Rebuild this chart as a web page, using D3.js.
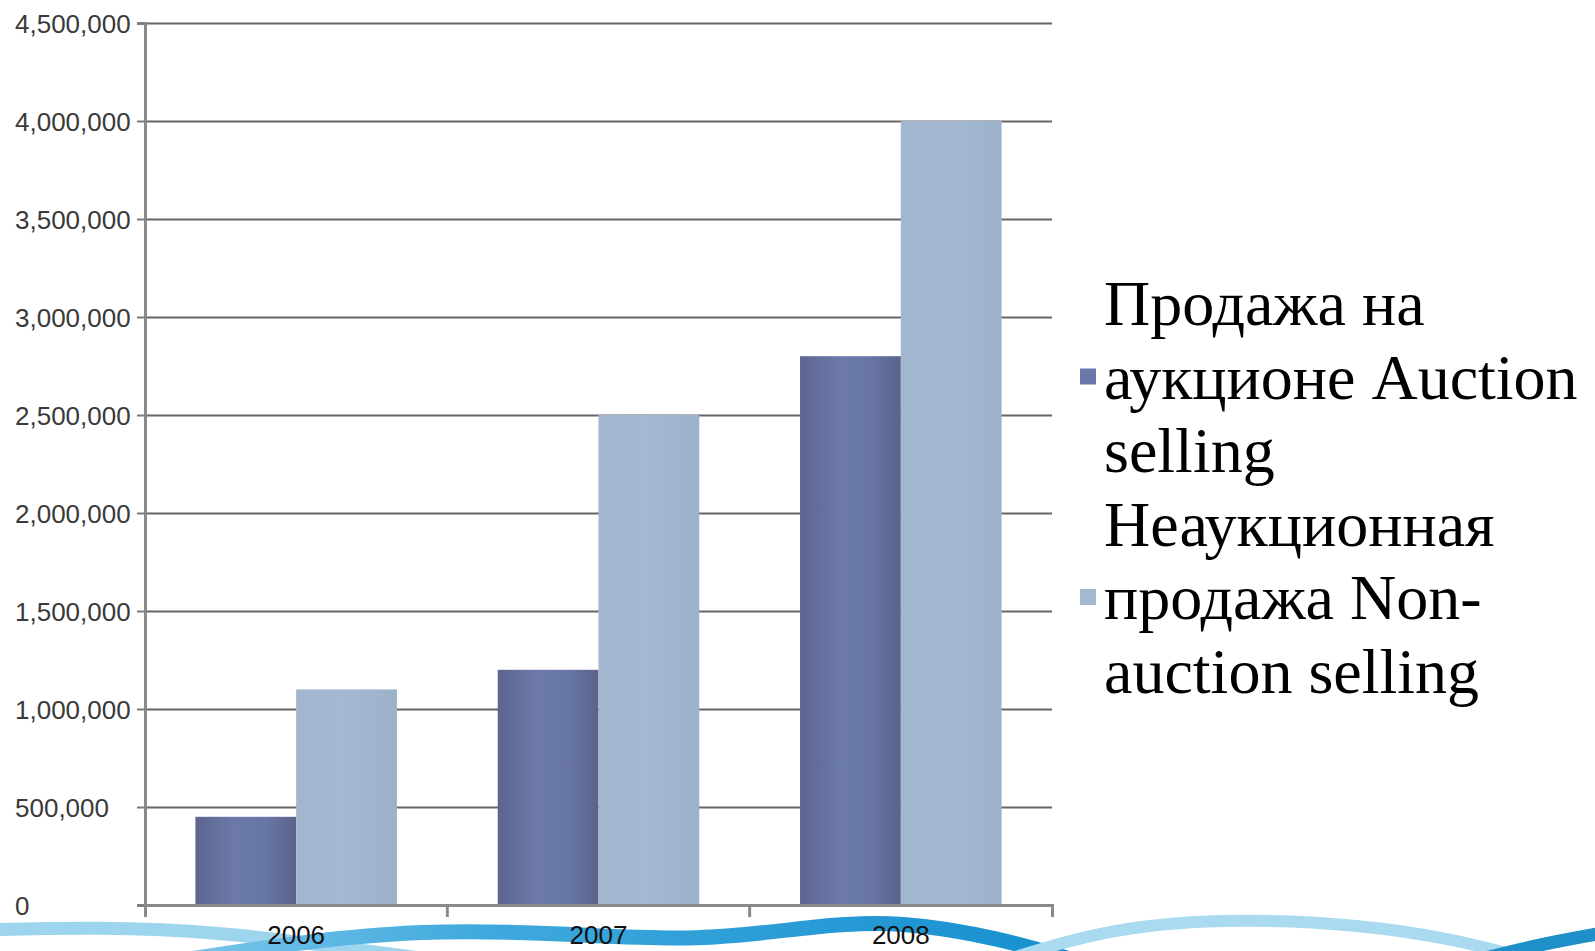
<!DOCTYPE html>
<html>
<head>
<meta charset="utf-8">
<script src="https://cdn.jsdelivr.net/npm/d3@7"></script>
<style>
  html, body { margin: 0; padding: 0; background: #fff; }
  svg { display: block; }
</style>
</head>
<body>
<div id="chart"></div>
<script>
// chart data
var years = ["2006", "2007", "2008"];
var seriesKeys = ["auction", "nonAuction"];
var auction = [450000, 1200000, 2800000];
var nonAuction = [1100000, 2500000, 4000000];
var yTicks = [0, 500000, 1000000, 1500000, 2000000, 2500000, 3000000, 3500000, 4000000, 4500000];
var legendLines = [
  ["Продажа на", "аукционе Auction", "selling"],
  ["Неаукционная", "продажа Non-", "auction selling"]
];

var svgWidth = 1595, svgHeight = 951;
var margin = {top: 23, right: 543, bottom: 46, left: 145};
var width = svgWidth - margin.left - margin.right;
var height = svgHeight - margin.top - margin.bottom;

var svg = d3.select("#chart").append("svg")
    .attr("width", svgWidth)
    .attr("height", svgHeight);

var defs = svg.append("defs");

var gradA = defs.append("linearGradient").attr("id", "gradA");
gradA.append("stop").attr("offset", "0%").attr("stop-color", "#5d658f");
gradA.append("stop").attr("offset", "40%").attr("stop-color", "#6c7aab");
gradA.append("stop").attr("offset", "70%").attr("stop-color", "#6876a6");
gradA.append("stop").attr("offset", "100%").attr("stop-color", "#5b6388");

var gradB = defs.append("linearGradient").attr("id", "gradB");
gradB.append("stop").attr("offset", "0%").attr("stop-color", "#a2b6cf");
gradB.append("stop").attr("offset", "45%").attr("stop-color", "#a4b9d1");
gradB.append("stop").attr("offset", "100%").attr("stop-color", "#9cb1ca");

var waveDark = defs.append("linearGradient").attr("id", "waveDark");
waveDark.append("stop").attr("offset", "0%").attr("stop-color", "#7cc6ea");
waveDark.append("stop").attr("offset", "35%").attr("stop-color", "#3fa9dd");
waveDark.append("stop").attr("offset", "100%").attr("stop-color", "#168fcf");

var fills = {auction: "url(#gradA)", nonAuction: "url(#gradB)"};
var legendColors = ["#6b77a9", "#a3b8d1"];

// decorative waves at bottom (background)
var wave = d3.line().curve(d3.curveBasis);
var waves = svg.append("g");
waves.append("path")
    .attr("d", wave([[-20, 930], [100, 927], [220, 932], [330, 946], [420, 958]]))
    .attr("fill", "none").attr("stroke", "#9ed5ee").attr("stroke-width", 13);
waves.append("path")
    .attr("d", wave([[170, 962], [300, 942], [420, 930], [560, 933], [700, 942], [820, 925], [900, 921], [1000, 938], [1080, 962]]))
    .attr("fill", "none").attr("stroke", "url(#waveDark)").attr("stroke-width", 15);
waves.append("path")
    .attr("d", wave([[1000, 962], [1100, 930], [1220, 918], [1360, 924], [1460, 940], [1540, 962]]))
    .attr("fill", "none").attr("stroke", "#a9daf0").attr("stroke-width", 12);
waves.append("path")
    .attr("d", wave([[1470, 962], [1540, 944], [1620, 930]]))
    .attr("fill", "none").attr("stroke", "#1e8fc8").attr("stroke-width", 13);

var g = svg.append("g").attr("transform", "translate(" + margin.left + "," + margin.top + ")");

var x0 = d3.scaleBand().domain(years).range([0, width]).padding(0);
var x1 = d3.scaleBand().domain(seriesKeys).range([0, x0.bandwidth()]).paddingInner(0).paddingOuter(0.5);
var y = d3.scaleLinear().domain([0, 4500000]).range([height, 0]);

// gridlines
g.append("g")
    .call(d3.axisLeft(y).tickValues(yTicks).tickSize(-width).tickFormat(""))
    .call(function(s) {
      s.select(".domain").remove();
      s.selectAll("line").attr("stroke", "#666").attr("stroke-width", 2);
    });

// bars
var rows = years.map(function(yr, i) {
  return {year: yr, auction: auction[i], nonAuction: nonAuction[i]};
});

g.append("g").selectAll("g")
  .data(rows)
  .join("g")
    .attr("transform", function(d) { return "translate(" + x0(d.year) + ",0)"; })
  .selectAll("rect")
  .data(function(d) { return seriesKeys.map(function(k) { return {key: k, value: d[k]}; }); })
  .join("rect")
    .attr("x", function(d) { return x1(d.key); })
    .attr("y", function(d) { return y(d.value); })
    .attr("width", x1.bandwidth())
    .attr("height", function(d) { return height - y(d.value); })
    .attr("fill", function(d) { return fills[d.key]; });

// y axis
g.append("g")
    .call(d3.axisLeft(y).tickValues(yTicks).tickSize(8).tickPadding(0).tickFormat(d3.format(",")))
    .call(function(s) {
      s.select(".domain").attr("stroke", "#8a8a8a").attr("stroke-width", 3);
      s.selectAll("line").attr("stroke", "#7a7a7a").attr("stroke-width", 2);
      s.selectAll("text")
        .attr("x", 15 - margin.left)
        .attr("text-anchor", "start")
        .attr("dy", "0.35em")
        .attr("fill", "#3a3a3a")
        .style("font-family", "'Liberation Sans', Arial, sans-serif")
        .style("font-size", "26px");
    });

// x axis
var xAxisG = g.append("g")
    .attr("transform", "translate(0," + height + ")")
    .call(d3.axisBottom(x0).tickValues([]).tickSizeOuter(12))
    .call(function(s) {
      s.select(".domain").attr("stroke", "#8a8a8a").attr("stroke-width", 3);
    });

xAxisG.selectAll(".sep")
  .data(years.slice(1))
  .join("line")
    .attr("x1", function(d) { return x0(d); })
    .attr("x2", function(d) { return x0(d); })
    .attr("y1", 0)
    .attr("y2", 12)
    .attr("stroke", "#8a8a8a")
    .attr("stroke-width", 3);

// x labels
xAxisG.selectAll(".lbl")
  .data(years)
  .join("text")
    .attr("x", function(d) { return x0(d) + x0.bandwidth() / 2; })
    .attr("y", 39)
    .attr("text-anchor", "middle")
    .attr("fill", "#111")
    .style("font-family", "'Liberation Sans', Arial, sans-serif")
    .style("font-size", "26px")
    .text(function(d) { return d; });

// legend
var legend = svg.append("g").attr("transform", "translate(1104,325)");
var lineH = 73.5;

legendLines.forEach(function(lines, i) {
  var entry = legend.append("g").attr("transform", "translate(0," + (i * 3 * lineH) + ")");
  entry.append("rect")
      .attr("x", -24)
      .attr("y", lineH - 30)
      .attr("width", 16)
      .attr("height", 16)
      .attr("fill", legendColors[i]);
  entry.selectAll("text")
    .data(lines)
    .join("text")
      .attr("x", 0)
      .attr("y", function(d, j) { return j * lineH; })
      .attr("fill", "#000")
      .style("font-family", "'Liberation Serif', 'Times New Roman', serif")
      .style("font-size", "64px")
      .text(function(d) { return d; });
});
</script>
</body>
</html>
